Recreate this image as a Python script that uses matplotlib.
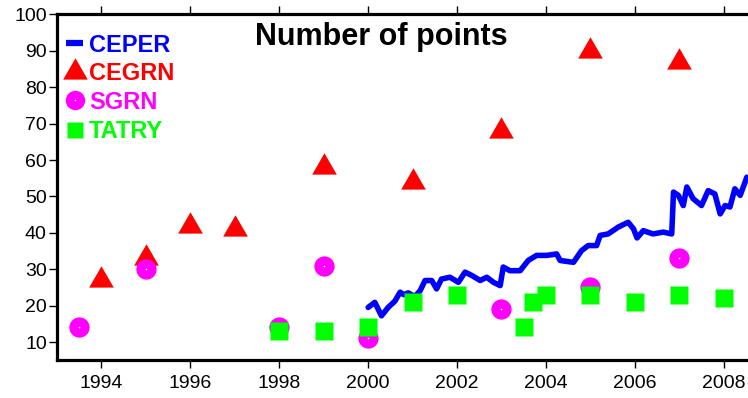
import numpy as np
import matplotlib
matplotlib.use("Agg")
import matplotlib.pyplot as plt
from matplotlib.path import Path

plt.rcParams['font.family'] = ['Liberation Sans', 'DejaVu Sans']

# CEPER - continuous count (blue line)
ceper_t = [2000.00, 2000.15, 2000.30, 2000.45, 2000.60, 2000.72, 2000.80, 2000.90,
           2001.05, 2001.17, 2001.28, 2001.43, 2001.54, 2001.65, 2001.84, 2002.03,
           2002.18, 2002.33, 2002.52, 2002.67, 2002.82, 2002.97, 2003.04, 2003.19,
           2003.42, 2003.60, 2003.79, 2004.02, 2004.24, 2004.32, 2004.62, 2004.80,
           2004.95, 2005.14, 2005.22, 2005.40, 2005.63, 2005.85, 2005.97, 2006.05,
           2006.19, 2006.41, 2006.64, 2006.83, 2006.87, 2006.98, 2007.09, 2007.17,
           2007.31, 2007.50, 2007.65, 2007.80, 2007.92, 2008.03, 2008.14, 2008.25,
           2008.37, 2008.44, 2008.52]
ceper_n = [19.5, 20.9, 17.2, 19.5, 21.2, 23.7, 23.0, 23.5,
           22.5, 24.1, 26.9, 26.9, 24.6, 27.3, 27.8, 26.4,
           29.2, 28.3, 26.9, 27.8, 26.4, 25.5, 30.6, 29.6,
           29.6, 32.4, 33.8, 33.8, 34.2, 32.4, 31.9, 35.1,
           36.5, 36.5, 39.3, 39.7, 41.6, 42.9, 41.1, 38.6,
           40.6, 39.7, 40.2, 39.7, 51.2, 50.3, 47.5, 52.6,
           49.4, 47.5, 51.6, 50.7, 45.2, 47.5, 47.1, 52.1,
           50.3, 52.6, 55.3]

# CEGRN campaigns (red triangles)
cegrn_t = [1994, 1995, 1996, 1997, 1999, 2001, 2003, 2005, 2007]
cegrn_n = [27, 33, 42, 41, 58, 54, 68, 90, 87]

# SGRN campaigns (magenta circles)
sgrn_t = [1993.5, 1995, 1998, 1999, 2000, 2003, 2005, 2007]
sgrn_n = [14, 30, 14, 31, 11, 19, 25, 33]

# TATRY campaigns (green squares)
tatry_t = [1998, 1999, 2000, 2001, 2002, 2003.5, 2003.7, 2004, 2005, 2006, 2007, 2008]
tatry_n = [13, 13, 14, 21, 23, 14, 21, 23, 23, 21, 23, 22]

year_ticks = [1994, 1996, 1998, 2000, 2002, 2004, 2006, 2008]
count_ticks = [10, 20, 30, 40, 50, 60, 70, 80, 90, 100]

# triangle centred on its centroid (like GMT)
tri = Path([(0, 1), (-0.866, -0.5), (0.866, -0.5), (0, 1)],
           [Path.MOVETO, Path.LINETO, Path.LINETO, Path.CLOSEPOLY])

BLUE, RED, MAG, GREEN = '#0000ff', '#ff0000', '#ff00ff', '#00ff00'

fig = plt.figure(figsize=(7.48, 3.98), dpi=100)
W, H = 748, 398
left, right, top, bottom = 57, 750.4, 14.5, 360.2
ax = fig.add_axes([left / W, (H - bottom) / H, (right - left) / W, (bottom - top) / H])

ax.plot(ceper_t, ceper_n, color=BLUE, lw=4.0, solid_joinstyle='round',
        solid_capstyle='round', zorder=2)
ax.plot(cegrn_t, cegrn_n, ls='none', marker=tri, ms=20.5, color=RED, mec='none', zorder=3)
ax.plot(sgrn_t, sgrn_n, ls='none', marker='o', ms=14.6, color=MAG, mec='none', zorder=4)
ax.plot(sgrn_t, sgrn_n, ls='none', marker='o', ms=1.2, color='white', mec='none', zorder=4)
ax.plot(tatry_t, tatry_n, ls='none', marker='s', ms=12.4, color=GREEN, mec='none', zorder=5)

ax.set_xlim(1993, 2008.6)
ax.set_ylim(5, 100)
ax.set_xticks(year_ticks)
ax.set_yticks(count_ticks)
ax.tick_params(direction='out', length=5.8, width=1.0, labelsize=14, pad=1.5,
               top=True, labeltop=False, right=False)
ax.tick_params(axis='x', pad=4.5)
for s in ['left', 'bottom', 'top']:
    ax.spines[s].set_linewidth(2.3)
ax.spines['right'].set_visible(False)

ax.text(0.467, 0.912, 'Number of points', transform=ax.transAxes, ha='center',
        va='baseline', fontsize=22, fontweight='bold', color='black')

# legend, drawn by hand
tx = (89 - left) / (right - left)
mx = (74.5 - left) / (right - left)
def ay(py):
    return (bottom - py) / (bottom - top)

ax.plot([(66 - left) / (right - left), (83 - left) / (right - left)], [ay(43), ay(43)],
        color=BLUE, lw=4.5, solid_capstyle='butt', transform=ax.transAxes, clip_on=False)
ax.plot([mx], [ay(72)], marker=tri, ms=20.5, color=RED, mec='none', transform=ax.transAxes)
ax.plot([mx], [ay(100)], marker='o', ms=14, color=MAG, mec='none', transform=ax.transAxes)
ax.plot([mx], [ay(100)], marker='o', ms=1.2, color='white', mec='none', transform=ax.transAxes)
ax.plot([mx], [ay(130)], marker='s', ms=12.2, color=GREEN, mec='none', transform=ax.transAxes)

for name, col, base in [('CEPER', BLUE, 52), ('CEGRN', RED, 80),
                        ('SGRN', MAG, 109), ('TATRY', GREEN, 138)]:
    ax.text(tx, ay(base), name, transform=ax.transAxes, ha='left', va='baseline',
            fontsize=17, fontweight='bold', color=col)

fig.savefig('out.png', dpi=100)
